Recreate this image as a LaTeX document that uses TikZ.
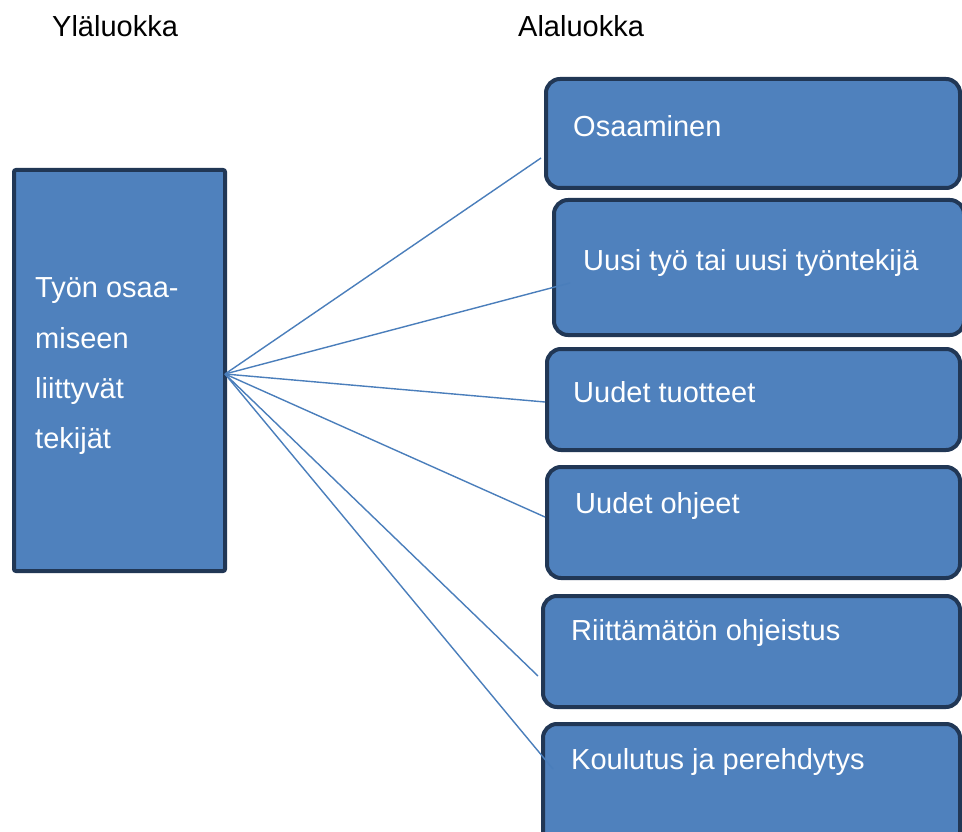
\documentclass[tikz,border=0pt]{standalone}
\usepackage{fontspec}
\setmainfont{Liberation Sans}
\begin{document}
\definecolor{boxfill}{HTML}{4F81BD}
\definecolor{boxedge}{RGB}{33,55,85}
\definecolor{linkcol}{HTML}{4A7EBB}
\begin{tikzpicture}[x=1pt,y=-1pt,
  catbox/.style={draw=boxedge,fill=boxfill,line width=4pt,rounded corners=14pt,
    inner sep=0pt,outer sep=0pt,anchor=north west},
  mainbox/.style={catbox,rounded corners=2pt},
  boxtext/.style={anchor=base west,inner sep=0pt,text=white,
    font=\fontsize{29}{35}\selectfont},
  headtext/.style={anchor=base west,inner sep=0pt,text=black,
    font=\fontsize{29}{35}\selectfont},
  link/.style={draw=linkcol,line width=1.4pt}]
\path[use as bounding box,clip] (0,0) rectangle (962,832);
\fill[white] (0,0) rectangle (962,832);

% column headings
\node[headtext] (hup) at (52,37) {Yläluokka};
\node[headtext] (hlow) at (518,37) {Alaluokka};

% upper category
\node[mainbox,minimum width=211pt,minimum height=401pt] (main) at (14,170) {};
\node[boxtext] (m1) at (35,297) {Työn osaa-};
\node[boxtext] (m2) at (35,348) {miseen};
\node[boxtext] (m3) at (35,398) {liittyvät};
\node[boxtext] (m4) at (35,448) {tekijät};

% subcategories
\node[catbox,minimum width=414pt,minimum height=109pt] (b1) at (546,79) {};
\node[catbox,minimum width=410pt,minimum height=135pt] (b2) at (554,200) {};
\node[catbox,minimum width=413pt,minimum height=101pt] (b3) at (547,349) {};
\node[catbox,minimum width=413pt,minimum height=111pt] (b4) at (547,467) {};
\node[catbox,minimum width=417pt,minimum height=111pt] (b5) at (543,596) {};
\node[catbox,minimum width=417pt,minimum height=130pt] (b6) at (543,724) {};

\node[boxtext] (t1) at (573,137) {Osaaminen};
\node[boxtext] (t2) at (583,270) {Uusi työ tai uusi työntekijä};
\node[boxtext] (t3) at (573,402) {Uudet tuotteet};
\node[boxtext] (t4) at (575,513) {Uudet ohjeet};
\node[boxtext] (t5) at (571,640) {Riittämätön ohjeistus};
\node[boxtext] (t6) at (571,769) {Koulutus ja perehdytys};

% connectors
\coordinate (hub) at (225,374);
\coordinate (e1) at (541,158);
\coordinate (e2) at (570,283);
\coordinate (e3) at (545,402);
\coordinate (e4) at (545,517);
\coordinate (e5) at (538,676);
\coordinate (e6) at (553,769);
\foreach \e in {e1,e2,e3,e4,e5,e6}
  \draw[link] (hub) -- (\e);
\end{tikzpicture}
\end{document}
